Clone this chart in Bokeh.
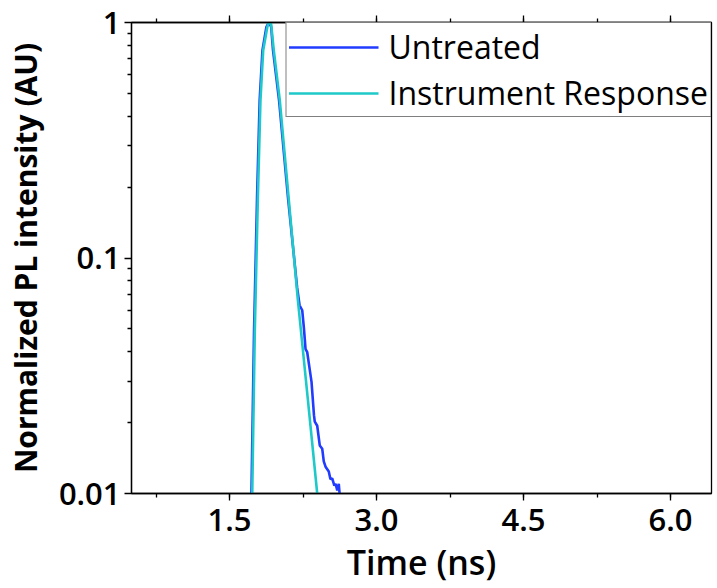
from bokeh.plotting import figure
from bokeh.models import (LinearAxis, SingleIntervalTicker, FixedTicker,
                          NumeralTickFormatter, CustomJSTickFormatter, Range1d,
                          Legend, LegendItem)
from bokeh.embed import file_html
from bokeh.resources import INLINE

# ---- data ----
untreated_time = [1.69, 1.724, 1.750, 1.781, 1.808, 1.836, 1.876, 1.901, 1.925,
                  1.943, 2.005, 2.097, 2.190, 2.215, 2.242, 2.260, 2.276, 2.293,
                  2.337, 2.362, 2.370, 2.395, 2.421, 2.446, 2.462, 2.480, 2.513,
                  2.530, 2.548, 2.570, 2.582, 2.600, 2.615, 2.625, 2.635]
untreated_pl = [0.006, 0.010, 0.048, 0.180, 0.470, 0.760, 0.955, 1.000, 0.960,
                0.770, 0.470, 0.180, 0.075, 0.063, 0.060, 0.050, 0.041, 0.0398,
                0.0298, 0.0215, 0.0202, 0.0194, 0.0160, 0.0155, 0.0137, 0.0130, 0.0124,
                0.0115, 0.0116, 0.0108, 0.0110, 0.0103, 0.0110, 0.0098, 0.0090]

irf_time = [1.70, 1.732, 1.758, 1.789, 1.816, 1.844, 1.885, 1.898, 1.911, 1.925,
            1.952, 2.013, 2.105, 2.197, 2.299, 2.395, 2.42]
irf_pl = [0.005, 0.010, 0.0484, 0.177, 0.468, 0.762, 0.953, 0.99, 1.000, 0.985,
          0.762, 0.468, 0.177, 0.0667, 0.0252, 0.010, 0.008]

x_tick_interval = 1.5
y_ticks = [0.01, 0.1, 1]
y_tick_labels = ["0.01", "0.1", "1"]
y_minor_ticks = [m * 10.0 ** k for k in (-2, -1) for m in range(2, 10)]

series_names = ["Untreated", "Instrument Response"]
series_colors = ["#213cff", "#1fc9c9"]

TICK_FONT = "Open Sans SemiBold"

p = figure(width=715, height=587,
           x_range=Range1d(0.5, 0.5 + 580 / 98.0), y_range=Range1d(0.01, 1),
           y_axis_type="log", output_backend="svg", toolbar_location=None,
           min_border_left=131, min_border_top=22, min_border_right=4,
           min_border_bottom=92)
p.xgrid.visible = False
p.ygrid.visible = False
p.outline_line_color = "black"
p.outline_line_width = 1.3
p.background_fill_color = "white"
p.border_fill_color = "white"

r1 = p.line(untreated_time, untreated_pl, line_color=series_colors[0], line_width=2.6)
r2 = p.line(irf_time, irf_pl, line_color=series_colors[1], line_width=2.6)

# bottom axis
xa = p.xaxis[0]
xa.ticker = SingleIntervalTicker(interval=x_tick_interval, num_minor_ticks=2)
xa.formatter = NumeralTickFormatter(format="0.0")
xa.axis_label = "Time (ns)"

# top axis (ticks only, no labels)
ta = LinearAxis(ticker=SingleIntervalTicker(interval=x_tick_interval, num_minor_ticks=2),
                formatter=CustomJSTickFormatter(code="return ''"),
                major_label_standoff=0)
p.add_layout(ta, "above")

# left axis
ya = p.yaxis[0]
ya.ticker = FixedTicker(ticks=y_ticks, minor_ticks=y_minor_ticks)
ya.major_label_overrides = {t: l for t, l in zip(y_ticks, y_tick_labels)}
ya.axis_label = "Normalized PL intensity (AU)"

for ax in (xa, ta, ya):
    ax.axis_line_color = "black"
    ax.axis_line_width = 1.3
    ax.major_tick_line_color = "black"
    ax.minor_tick_line_color = "black"
    ax.major_tick_line_width = 1.3
    ax.minor_tick_line_width = 1.3
    ax.major_tick_in = 0
    ax.major_tick_out = 7
    ax.minor_tick_in = 0
    ax.minor_tick_out = 4

for ax in (xa, ya):
    ax.major_label_text_font = TICK_FONT
    ax.major_label_text_font_size = "31px"
    ax.major_label_text_color = "black"
    ax.axis_label_text_color = "black"

xa.major_label_standoff = 8
xa.axis_label_standoff = 5
xa.axis_label_text_font = TICK_FONT
xa.axis_label_text_font_size = "34px"
xa.axis_label_text_font_style = "normal"
ya.major_label_standoff = 4
ya.axis_label_standoff = 10
ya.axis_label_text_font = "Open Sans"
ya.axis_label_text_font_size = "30px"
ya.axis_label_text_font_style = "bold"

legend = Legend(items=[LegendItem(label=series_names[0], renderers=[r1]),
                       LegendItem(label=series_names[1], renderers=[r2])],
                location="top_right", margin=0, padding=2, spacing=3,
                glyph_width=90, glyph_height=40, label_height=40,
                label_standoff=10,
                label_text_font="Open Sans", label_text_font_size="32px",
                label_text_color="black",
                border_line_color="black", border_line_width=1.3,
                background_fill_color="white", background_fill_alpha=1.0)
p.add_layout(legend, "center")

open("out.html", "w").write(file_html(p, INLINE))
